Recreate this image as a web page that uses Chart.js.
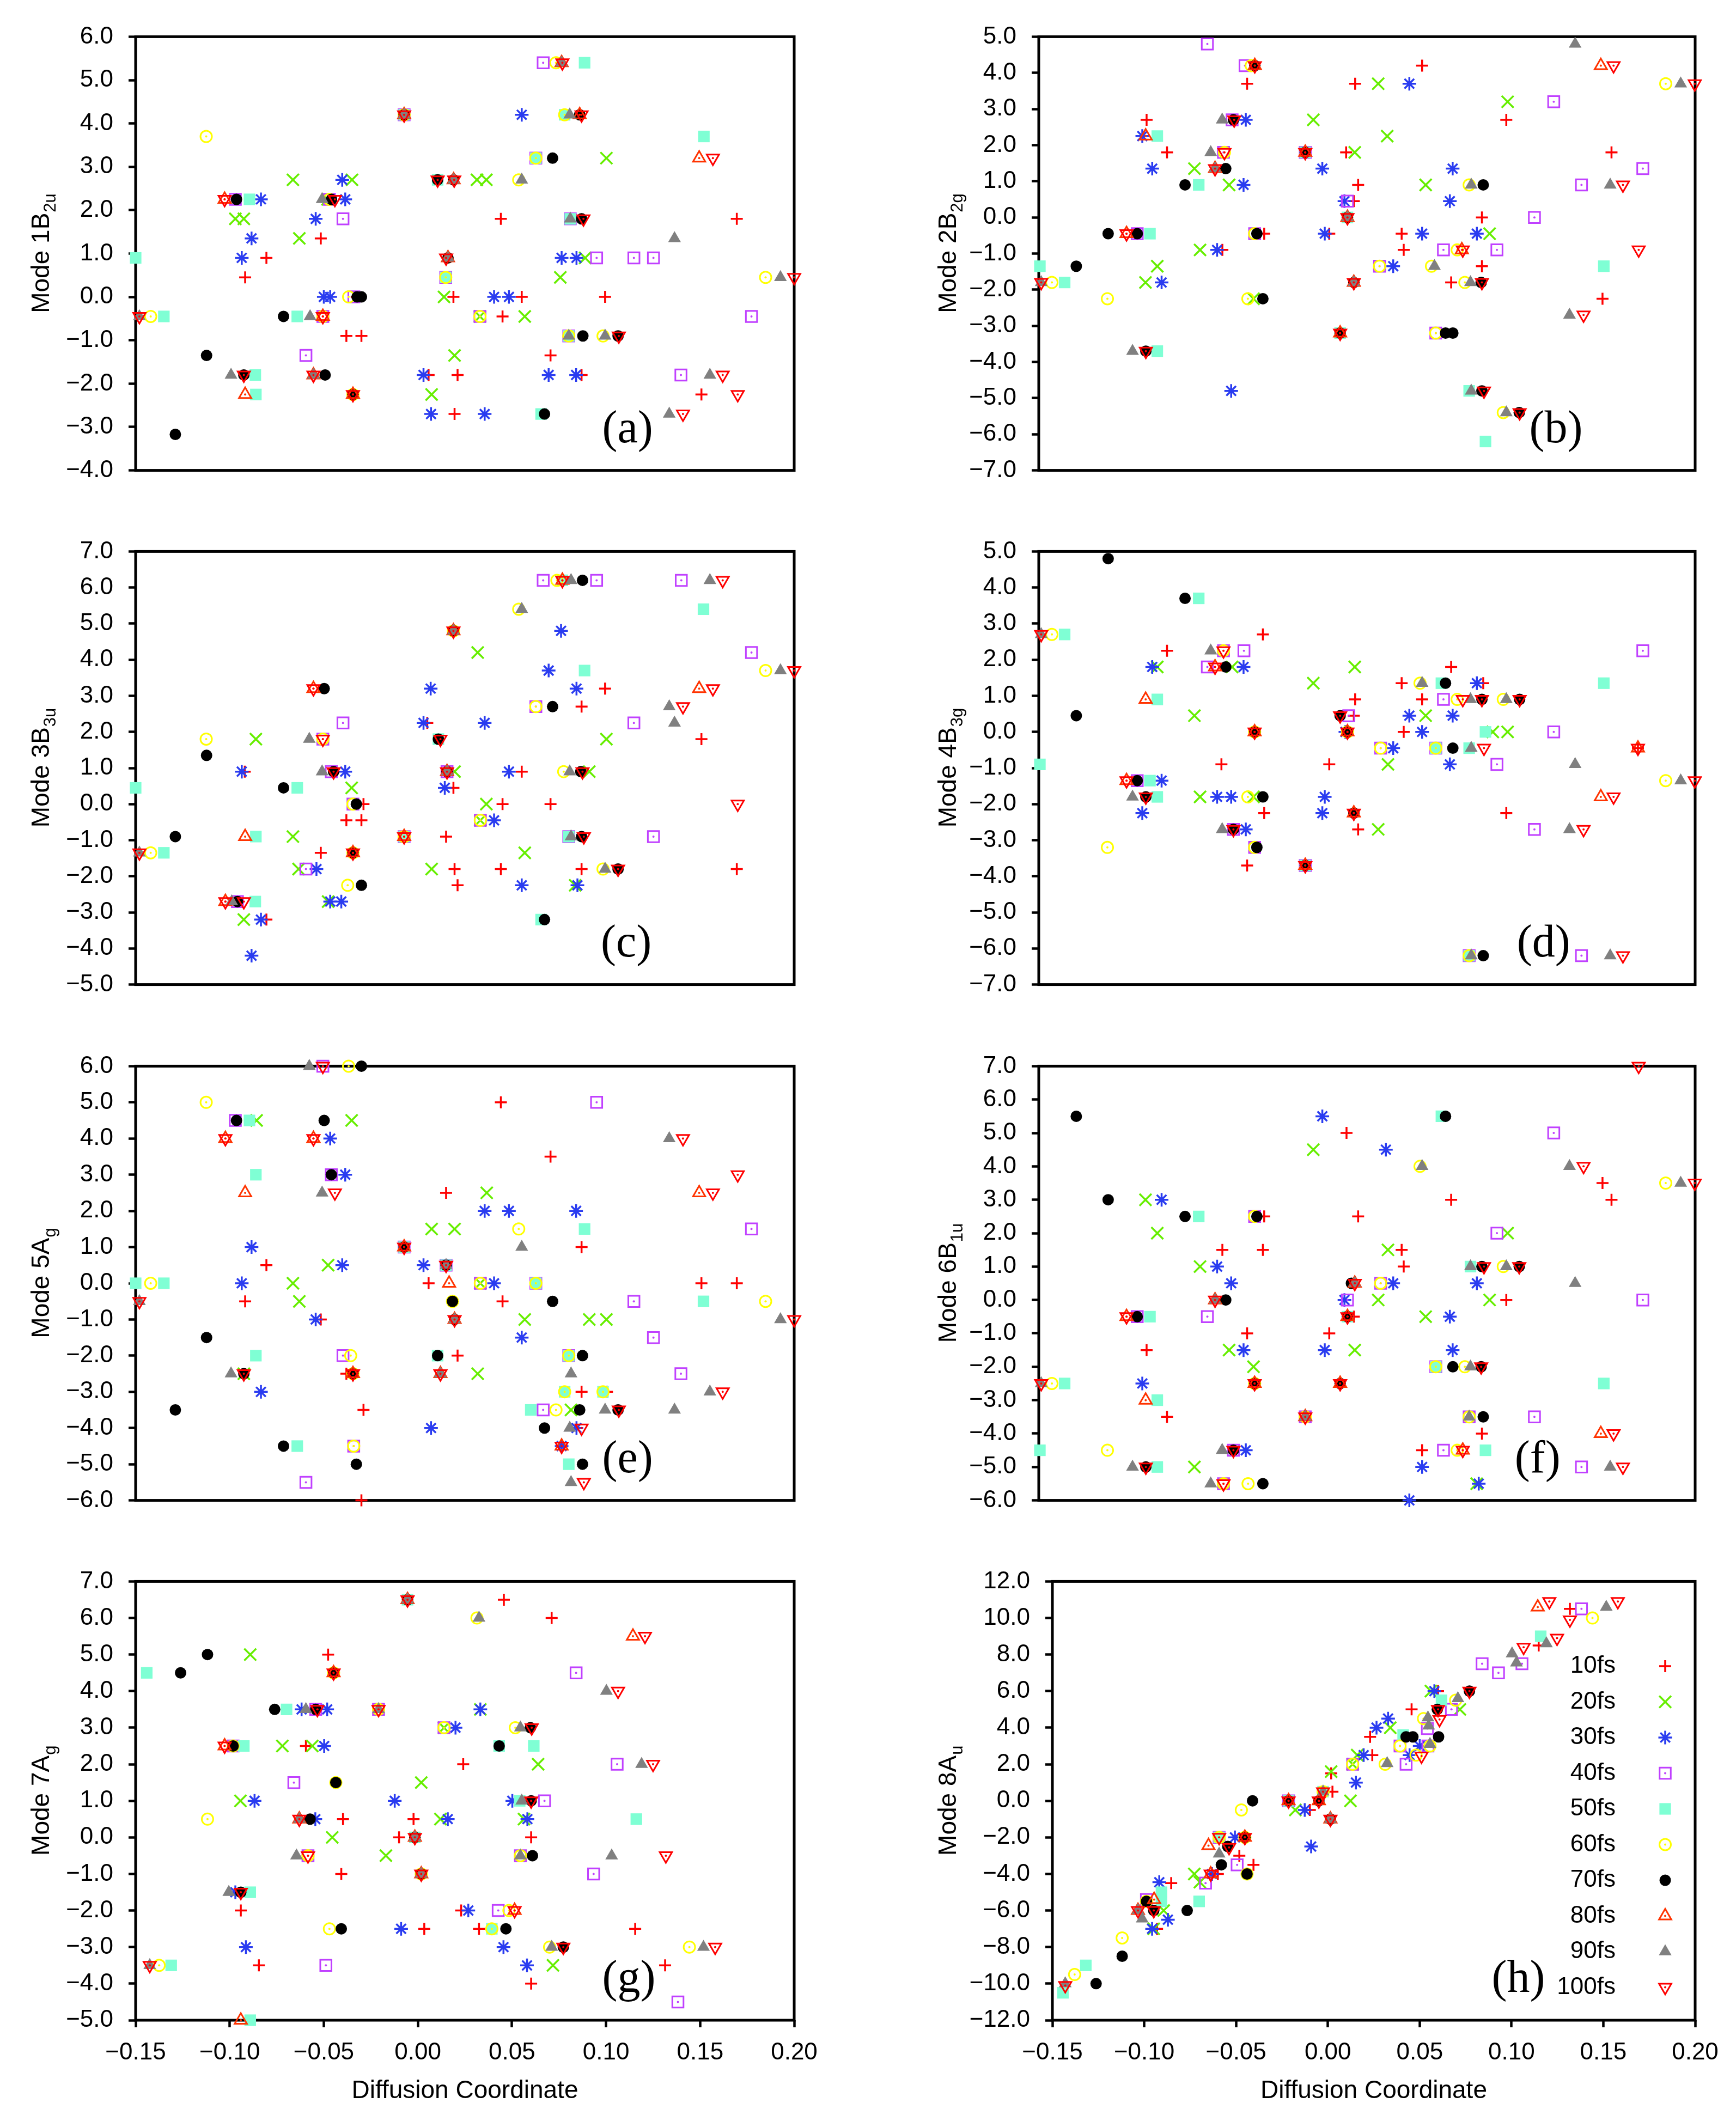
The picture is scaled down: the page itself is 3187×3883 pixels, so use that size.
<!DOCTYPE html>
<html>
<head>
<meta charset="utf-8">
<script src="https://cdn.jsdelivr.net/npm/chart.js@4.4.0/dist/chart.umd.min.js"></script>
<style>
  html, body { margin: 0; padding: 0; background: #fff; }
  #wrap { position: relative; width: 3187px; height: 3883px; background: #fff; overflow: hidden; }
  #wrap canvas { position: absolute; }
</style>
</head>
<body>
<div id="wrap"></div>
<script>
// series (one per time step)
const times = ['10fs', '20fs', '30fs', '40fs', '50fs', '60fs', '70fs', '80fs', '90fs', '100fs'];

// tick labels
const xTicks = [-0.15, -0.10, -0.05, 0.00, 0.05, 0.10, 0.15, 0.20];
const ticksA = [-4, -3, -2, -1, 0, 1, 2, 3, 4, 5, 6];
const ticksB = [-7, -6, -5, -4, -3, -2, -1, 0, 1, 2, 3, 4, 5];
const ticksC = [-5, -4, -3, -2, -1, 0, 1, 2, 3, 4, 5, 6, 7];
const ticksD = [-7, -6, -5, -4, -3, -2, -1, 0, 1, 2, 3, 4, 5];
const ticksE = [-6, -5, -4, -3, -2, -1, 0, 1, 2, 3, 4, 5, 6];
const ticksF = [-6, -5, -4, -3, -2, -1, 0, 1, 2, 3, 4, 5, 6, 7];
const ticksG = [-5, -4, -3, -2, -1, 0, 1, 2, 3, 4, 5, 6, 7];
const ticksH = [-12, -10, -8, -6, -4, -2, 0, 2, 4, 6, 8, 10, 12];

// (a) Mode 1B2u : [diffusion coordinate, mode value] per series, 10fs .. 100fs
const panelA = [
  [[-0.0918,0.45],[-0.0805,0.9],[-0.0516,1.35],[0.0441,1.8],[0.1695,1.8],[-0.0325,0],[0.0189,0],[0.0552,0],[0.0995,0],[0.045,-0.45],[-0.038,-0.9],[-0.03,-0.9],[0.0705,-1.35],[0.0057,-1.8],[0.0211,-1.8],[0.087,-1.8],[0.1507,-2.25],[0.0195,-2.7]],
  [[-0.0664,2.7],[-0.035,2.7],[0.0314,2.7],[0.0364,2.7],[0.1002,3.2],[-0.097,1.8],[-0.0925,1.8],[-0.063,1.35],[0.0889,0.9],[0.0757,0.45],[0.0139,0],[0.033,-0.45],[0.0568,-0.45],[0.0195,-1.35],[0.0073,-2.25],[-0.048,2.25]],
  [[0.0552,4.2],[-0.0402,2.7],[-0.0834,2.25],[-0.0386,2.25],[-0.0543,1.8],[-0.0884,1.35],[-0.0936,0.9],[0.0764,0.9],[0.0843,0.9],[-0.05,0],[-0.0466,0],[0.0405,0],[0.0484,0],[0.003,-1.8],[0.0695,-1.8],[0.0841,-1.8],[0.007,-2.7],[0.0355,-2.7]],
  [[0.0666,5.4],[-0.0073,4.2],[0.0627,3.2],[-0.097,2.25],[-0.047,2.25],[-0.0398,1.8],[0.081,1.8],[0.095,0.9],[0.1148,0.9],[0.1252,0.9],[0.0148,0.45],[-0.034,0],[-0.0505,-0.45],[0.033,-0.45],[0.1773,-0.45],[0.0802,-0.9],[-0.0595,-1.35],[0.1398,-1.8]],
  [[0.0886,5.4],[-0.0073,4.2],[0.078,4.2],[0.152,3.7],[0.0627,3.2],[0.0105,2.7],[-0.0895,2.25],[0.081,1.8],[-0.15,0.9],[0.0148,0.45],[-0.135,-0.45],[-0.0641,-0.45],[0.0802,-0.9],[-0.0864,-1.8],[-0.0861,-2.25],[0.0655,-2.7]],
  [[0.0734,5.4],[-0.0073,4.2],[0.078,4.2],[-0.1125,3.7],[0.0627,3.2],[0.0536,2.7],[-0.047,2.25],[0.0148,0.45],[0.1848,0.45],[-0.0368,0],[-0.142,-0.45],[-0.0505,-0.45],[0.033,-0.45],[0.0802,-0.9],[0.0984,-0.9],[-0.0345,-2.25]],
  [[-0.0073,4.2],[0.086,4.2],[0.0716,3.2],[0.0105,2.7],[0.019,2.7],[-0.0964,2.25],[-0.0459,2.25],[0.087,1.8],[0.016,0.9],[-0.0323,0],[-0.03,0],[-0.0714,-0.45],[0.0877,-0.9],[0.1064,-0.9],[-0.1123,-1.35],[-0.0925,-1.8],[-0.0493,-1.8],[-0.0345,-2.25],[0.0673,-2.7],[-0.1289,-3.17]],
  [[0.0764,5.4],[-0.0073,4.2],[0.086,4.2],[0.1495,3.2],[0.019,2.7],[-0.1027,2.25],[0.016,0.9],[-0.0505,-0.45],[-0.0555,-1.8],[-0.0918,-2.25],[-0.0345,-2.25]],
  [[0.0764,5.4],[-0.0073,4.2],[0.0807,4.2],[0.0552,2.7],[0.019,2.7],[-0.0509,2.25],[0.081,1.8],[0.1364,1.35],[0.016,0.9],[0.1927,0.45],[-0.148,-0.45],[-0.0573,-0.45],[0.0802,-0.9],[0.0995,-0.9],[-0.0993,-1.8],[-0.0555,-1.8],[0.1552,-1.8],[0.1336,-2.7]],
  [[0.0768,5.4],[-0.0073,4.2],[0.087,4.2],[0.1568,3.2],[0.0105,2.7],[0.0193,2.7],[-0.1027,2.25],[-0.0441,2.25],[0.088,1.8],[0.015,0.9],[0.2,0.45],[-0.148,-0.45],[-0.0505,-0.45],[0.1068,-0.9],[-0.0925,-1.8],[-0.0555,-1.8],[0.162,-1.8],[-0.0345,-2.25],[0.17,-2.25],[0.1409,-2.7]]
];

// (b) Mode 2B2g
const panelB = [
  [[0.0544,4.2],[-0.0389,3.7],[0.0187,3.7],[-0.0925,2.7],[0.0993,2.7],[-0.0816,1.8],[0.0139,1.8],[0.1554,1.8],[0.0203,0.9],[0.018,0.45],[0.0863,0],[-0.0298,-0.45],[0.0049,-0.45],[0.0435,-0.45],[-0.0521,-0.9],[0.0446,-0.9],[0.0863,-1.35],[0.0699,-1.8],[0.1506,-2.25]],
  [[0.031,3.7],[0.1,3.2],[-0.0036,2.7],[0.0358,2.25],[0.0185,1.8],[-0.067,1.35],[-0.0485,0.9],[0.0563,0.9],[0.0904,-0.45],[-0.064,-0.9],[-0.0868,-1.35],[-0.0931,-1.8],[-0.0355,-2.25]],
  [[0.0476,3.7],[-0.0396,2.7],[-0.0948,2.25],[-0.0895,1.35],[0.0012,1.35],[0.0707,1.35],[-0.0408,0.9],[0.013,0.45],[0.0692,0.45],[0.0025,-0.45],[0.0544,-0.45],[0.0836,-0.45],[-0.0549,-0.9],[0.039,-1.35],[-0.0845,-1.8],[-0.0474,-4.8]],
  [[-0.0601,4.8],[-0.04,4.2],[0.1246,3.2],[-0.0469,2.7],[-0.0515,1.8],[-0.0079,1.8],[0.1721,1.35],[0.1394,0.9],[0.0146,0.45],[0.1143,0],[-0.0975,-0.45],[-0.0349,-0.45],[0.0658,-0.9],[0.0943,-0.9],[0.0317,-1.35],[0.0617,-3.2]],
  [[-0.0868,2.25],[-0.0079,1.8],[-0.0647,0.9],[0.0146,0],[-0.0907,-0.45],[-0.1494,-1.35],[0.1513,-1.35],[-0.1362,-1.8],[0.0107,-3.2],[-0.0868,-3.7],[0.0795,-4.8],[0.0882,-6.2]],
  [[-0.0367,4.2],[0.1843,3.7],[-0.051,1.8],[0.0795,0.9],[-0.0349,-0.45],[0.0731,-0.9],[0.0317,-1.35],[0.0594,-1.35],[-0.143,-1.8],[0.0772,-1.8],[-0.1134,-2.25],[-0.0385,-2.25],[0.0617,-3.2],[0.0977,-5.4]],
  [[-0.0348,4.2],[-0.0462,2.7],[-0.0079,1.8],[-0.0503,1.35],[-0.072,0.9],[0.087,0.9],[0.0146,0],[-0.113,-0.45],[-0.0975,-0.45],[-0.0337,-0.45],[-0.13,-1.35],[0.018,-1.8],[0.0859,-1.8],[-0.0305,-2.25],[0.0107,-3.2],[0.0669,-3.2],[0.0708,-3.2],[-0.0929,-3.7],[0.0863,-4.8],[0.1062,-5.4]],
  [[-0.0348,4.2],[0.1497,4.2],[-0.093,2.25],[-0.0079,1.8],[-0.056,1.35],[0.0146,0],[-0.1032,-0.45],[0.0756,-0.9],[0.018,-1.8],[0.0107,-3.2]],
  [[0.136,4.8],[0.1923,3.7],[-0.0522,2.7],[-0.0583,1.8],[-0.056,1.35],[0.0806,0.9],[0.1547,0.9],[0.0146,0],[0.061,-1.35],[-0.1487,-1.8],[0.018,-1.8],[0.0802,-1.8],[0.133,-2.7],[-0.1,-3.7],[0.0806,-4.8],[0.0993,-5.4]],
  [[-0.0348,4.2],[0.1565,4.2],[0.1998,3.7],[-0.0458,2.7],[-0.051,1.8],[-0.0079,1.8],[-0.056,1.35],[0.1615,0.9],[0.0146,0],[-0.1032,-0.45],[0.0761,-0.9],[0.1699,-0.9],[-0.1487,-1.8],[0.018,-1.8],[0.0863,-1.8],[0.1405,-2.7],[0.0107,-3.2],[-0.0929,-3.7],[0.0874,-4.8],[0.1064,-5.4]]
];

// (c) Mode 3B3u
const panelC = [
  [[0.0995,3.2],[0.087,2.7],[0.005,2.25],[0.1507,1.8],[-0.092,0.9],[0.0552,0.9],[0.0189,0.45],[-0.0289,0],[0.045,0],[0.0705,0],[-0.038,-0.45],[-0.03,-0.45],[0.015,-0.9],[-0.0516,-1.35],[0.0195,-1.8],[0.0441,-1.8],[0.087,-1.8],[0.1695,-1.8],[0.0211,-2.25],[-0.0805,-3.2]],
  [[0.0318,4.2],[-0.0861,1.8],[0.1002,1.8],[0.0195,0.9],[0.0911,0.9],[-0.0352,0.45],[0.0364,0],[0.0332,-0.45],[-0.0664,-0.9],[0.0568,-1.35],[-0.0634,-1.8],[0.0073,-1.8],[0.0836,-2.25],[-0.0477,-2.7],[-0.0925,-3.2]],
  [[0.0761,4.8],[0.0695,3.7],[0.0068,3.2],[0.0843,3.2],[0.003,2.25],[0.0355,2.25],[-0.0936,0.9],[-0.0386,0.9],[0.0484,0.9],[0.0143,0.45],[0.0405,-0.45],[-0.0539,-1.8],[0.0552,-2.25],[0.0848,-2.25],[-0.0466,-2.7],[-0.0407,-2.7],[-0.0834,-3.2],[-0.0884,-4.2]],
  [[0.0666,6.2],[0.095,6.2],[0.14,6.2],[0.1773,4.2],[0.0627,2.7],[-0.0398,2.25],[0.1148,2.25],[-0.0505,1.8],[-0.046,0.9],[0.0155,0.9],[-0.0345,0],[0.0332,-0.45],[-0.0073,-0.9],[0.0802,-0.9],[0.1252,-0.9],[-0.0595,-1.8],[-0.0959,-2.7]],
  [[0.0768,6.2],[0.1518,5.4],[0.0886,3.7],[0.0109,1.8],[-0.15,0.45],[-0.0641,0.45],[-0.0861,-0.9],[-0.0073,-0.9],[0.0802,-0.9],[-0.135,-1.35],[-0.0864,-2.7],[0.0655,-3.2]],
  [[0.0739,6.2],[0.0536,5.4],[0.0189,4.8],[0.1848,3.7],[0.0627,2.7],[-0.1125,1.8],[-0.0505,1.8],[0.0775,0.9],[-0.0345,0],[0.0332,-0.45],[-0.0073,-0.9],[-0.142,-1.35],[-0.0345,-1.35],[0.0984,-1.8],[-0.0373,-2.25]],
  [[0.0875,6.2],[0.0189,4.8],[-0.0498,3.2],[0.0716,2.7],[0.0109,1.8],[-0.1123,1.35],[-0.0448,0.9],[0.0155,0.9],[0.0866,0.9],[-0.0714,0.45],[-0.0327,0],[-0.1289,-0.9],[0.087,-0.9],[-0.0345,-1.35],[0.1064,-1.8],[-0.03,-2.25],[-0.0959,-2.7],[0.0673,-3.2]],
  [[0.0768,6.2],[0.0189,4.8],[-0.0555,3.2],[0.1495,3.2],[0.0155,0.9],[-0.0918,-0.9],[-0.0073,-0.9],[-0.0345,-1.35],[-0.1023,-2.7]],
  [[0.0814,6.2],[0.1552,6.2],[0.0552,5.4],[0.0189,4.8],[0.1927,3.7],[0.1336,2.7],[0.1364,2.25],[-0.0577,1.8],[-0.0509,0.9],[0.0155,0.9],[0.0807,0.9],[0.0814,-0.9],[-0.148,-1.35],[0.0995,-1.8],[-0.0989,-2.7]],
  [[0.0768,6.2],[0.162,6.2],[0.0189,4.8],[0.2,3.7],[-0.0555,3.2],[0.1568,3.2],[0.1409,2.7],[-0.0505,1.8],[0.012,1.8],[-0.0448,0.9],[0.0155,0.9],[0.0875,0.9],[0.17,0],[-0.0073,-0.9],[0.0882,-0.9],[-0.148,-1.35],[-0.0345,-1.35],[0.1064,-1.8],[-0.1023,-2.7],[-0.0925,-2.7]]
];

// (d) Mode 4B3g
const panelD = [
  [[-0.0305,2.7],[-0.0816,2.25],[0.0699,1.8],[0.0435,1.35],[0.087,1.35],[0.0187,0.9],[0.0544,0.9],[0.018,0.45],[0.0446,0],[0.1695,-0.45],[-0.0526,-0.9],[0.0049,-0.9],[-0.0298,-2.25],[0.0993,-2.25],[0.0203,-2.7],[-0.0389,-3.7]],
  [[-0.0868,1.8],[-0.0469,1.8],[0.0185,1.8],[-0.0036,1.35],[-0.067,0.45],[0.0563,0.45],[0.0921,0],[0.1,0],[0.0362,-0.9],[-0.064,-1.8],[-0.0355,-1.8],[0.031,-2.7]],
  [[-0.0895,1.8],[-0.0408,1.8],[0.0836,1.35],[0.0476,0.45],[0.0707,0.45],[0.0135,0],[0.0544,0],[0.039,-0.45],[0.0692,-0.9],[-0.0845,-1.35],[-0.0549,-1.8],[-0.0474,-1.8],[0.0025,-1.8],[-0.0948,-2.25],[0.0012,-2.25],[-0.0396,-2.7]],
  [[-0.0515,2.25],[-0.0406,2.25],[0.1721,2.25],[-0.0601,1.8],[0.0658,0.9],[0.0153,0.45],[0.1246,0],[0.0323,-0.45],[0.0617,-0.45],[0.0943,-0.9],[-0.0975,-1.35],[-0.0462,-2.7],[0.1143,-2.7],[-0.0349,-3.2],[-0.0079,-3.7],[0.0795,-6.2],[0.1394,-6.2]],
  [[-0.0647,3.7],[-0.1362,2.7],[0.0647,1.35],[0.1513,1.35],[-0.0868,0.9],[0.0882,0],[0.0617,-0.45],[0.0795,-0.45],[-0.1494,-0.9],[-0.0907,-1.35],[-0.0868,-1.8],[-0.0079,-3.7],[0.0795,-6.2]],
  [[-0.143,2.7],[-0.0515,2.25],[0.0533,1.35],[0.0731,0.9],[0.0977,0.9],[-0.0349,0],[0.0146,0],[0.0323,-0.45],[0.0617,-0.45],[0.1843,-1.35],[-0.0385,-1.8],[-0.1134,-3.2],[-0.0349,-3.2],[0.0795,-6.2]],
  [[-0.113,4.8],[-0.072,3.7],[-0.0503,1.8],[0.0669,1.35],[0.0863,0.9],[0.1064,0.9],[-0.13,0.45],[0.0107,0.45],[-0.0349,0],[0.0146,0],[0.0708,-0.45],[-0.0975,-1.35],[-0.0929,-1.8],[-0.0305,-1.8],[0.018,-2.25],[-0.0462,-2.7],[-0.0337,-3.2],[-0.0079,-3.7],[0.087,-6.2]],
  [[-0.056,1.8],[-0.093,0.9],[-0.0349,0],[0.0146,0],[0.1695,-0.45],[-0.1032,-1.35],[0.1497,-1.8],[0.018,-2.25],[-0.0079,-3.7]],
  [[-0.1487,2.7],[-0.0583,2.25],[0.0544,1.35],[0.0802,0.9],[0.0993,0.9],[0.0806,-0.45],[0.136,-0.9],[0.1923,-1.35],[-0.1,-1.8],[-0.0522,-2.7],[0.133,-2.7],[0.0806,-6.2],[0.1547,-6.2]],
  [[-0.1487,2.7],[-0.0515,2.25],[-0.056,1.8],[0.0761,0.9],[0.0863,0.9],[0.1064,0.9],[0.0107,0.45],[-0.0349,0],[0.0146,0],[0.0874,-0.45],[0.1695,-0.45],[-0.1032,-1.35],[0.1998,-1.35],[-0.0929,-1.8],[0.1565,-1.8],[0.018,-2.25],[-0.0462,-2.7],[0.1405,-2.7],[-0.0079,-3.7],[0.1615,-6.2]]
];

// (e) Mode 5Ag
const panelE = [
  [[0.0441,5.0],[0.0705,3.5],[0.015,2.5],[0.087,1.0],[-0.0805,0.5],[0.0057,0],[0.1507,0],[0.1695,0],[-0.0918,-0.5],[0.045,-0.5],[-0.0516,-1.0],[0.0211,-2.0],[-0.038,-2.5],[0.087,-3.0],[0.1005,-3.0],[-0.0289,-3.5],[-0.03,-6.0]],
  [[-0.0857,4.5],[-0.0352,4.5],[0.0366,2.5],[0.0073,1.5],[0.0195,1.5],[-0.0477,0.5],[-0.0664,0],[0.0332,0],[-0.063,-0.5],[0.0568,-1.0],[0.0911,-1.0],[0.1002,-1.0],[-0.0925,-2.5],[0.0318,-2.5],[0.0814,-3.5]],
  [[-0.0466,4.0],[-0.0386,3.0],[0.0355,2.0],[0.0484,2.0],[0.0841,2.0],[-0.0884,1.0],[-0.0402,0.5],[0.003,0.5],[-0.0936,0],[0.0405,0],[-0.0543,-1.0],[0.0552,-1.5],[-0.0834,-3.0],[0.007,-4.0],[0.0843,-4.0],[0.0764,-4.5]],
  [[-0.0505,6.0],[0.095,5.0],[-0.097,4.5],[-0.046,3.0],[0.1773,1.5],[-0.0073,1.0],[0.015,0.5],[0.0332,0],[0.0627,0],[0.1148,-0.5],[0.1252,-1.5],[-0.0398,-2.0],[0.0802,-2.0],[0.1398,-2.5],[0.0666,-3.5],[-0.0341,-4.5],[-0.0595,-5.5]],
  [[-0.0895,4.5],[-0.0861,3.0],[0.0886,1.5],[-0.0073,1.0],[0.015,0.5],[-0.15,0],[-0.135,0],[0.0627,0],[0.1518,-0.5],[-0.0861,-2.0],[0.0105,-2.0],[0.0802,-2.0],[0.078,-3.0],[0.0984,-3.0],[0.06,-3.5],[-0.0641,-4.5],[0.0802,-5.0]],
  [[-0.0368,6.0],[-0.1125,5.0],[0.0536,1.5],[-0.142,0],[0.0332,0],[0.0627,0],[0.0184,-0.5],[0.1848,-0.5],[-0.0357,-2.0],[0.0802,-2.0],[-0.0345,-2.5],[0.078,-3.0],[0.0984,-3.0],[0.0734,-3.5],[-0.0341,-4.5]],
  [[-0.03,6.0],[-0.0964,4.5],[-0.0498,4.5],[-0.046,3.0],[-0.0073,1.0],[0.015,0.5],[0.0184,-0.5],[0.0716,-0.5],[0.0195,-1.0],[-0.1123,-1.5],[0.0105,-2.0],[0.0875,-2.0],[-0.0925,-2.5],[-0.0345,-2.5],[-0.1289,-3.5],[0.086,-3.5],[0.1064,-3.5],[0.0673,-4.0],[-0.0714,-4.5],[-0.0327,-5.0],[0.0875,-5.0]],
  [[-0.1023,4.0],[-0.0555,4.0],[-0.0918,2.5],[0.1495,2.5],[-0.0073,1.0],[0.0166,0],[0.0195,-1.0],[-0.0345,-2.5],[0.012,-2.5],[0.0764,-4.5]],
  [[-0.0577,6.0],[0.1336,4.0],[-0.0509,2.5],[0.0552,1.0],[0.015,0.5],[-0.148,-0.5],[0.0195,-1.0],[0.1927,-1.0],[-0.0993,-2.5],[0.012,-2.5],[0.0814,-2.5],[0.1552,-3.0],[0.0995,-3.5],[0.1364,-3.5],[0.0807,-4.0],[0.0814,-5.5]],
  [[-0.0505,6.0],[-0.1023,4.0],[-0.0555,4.0],[0.1409,4.0],[0.17,3.0],[-0.0441,2.5],[0.1568,2.5],[-0.0073,1.0],[0.015,0.5],[-0.148,-0.5],[0.0195,-1.0],[0.2,-1.0],[-0.0925,-2.5],[-0.0345,-2.5],[0.012,-2.5],[0.162,-3.0],[0.1068,-3.5],[0.087,-4.0],[0.0764,-4.5],[0.0882,-5.5]]
];

// (f) Mode 6B1u
const panelF = [
  [[0.0141,5.0],[0.1506,3.5],[0.0699,3.0],[0.1554,3.0],[-0.0298,2.5],[0.0203,2.5],[-0.0521,1.5],[-0.0305,1.5],[0.0435,1.5],[0.0446,1.0],[0.0993,0],[0.018,-0.5],[-0.0389,-1.0],[0.0049,-1.0],[-0.0925,-1.5],[-0.0816,-3.5],[0.0863,-4.0],[0.0544,-4.5]],
  [[-0.0036,4.5],[-0.0931,3.0],[-0.0868,2.0],[0.1,2.0],[0.0362,1.5],[-0.064,1.0],[0.031,0],[0.0904,0],[0.0563,-0.5],[-0.0485,-1.5],[0.0185,-1.5],[-0.0355,-2.0],[-0.067,-5.0],[0.0835,-5.5]],
  [[0.0012,5.5],[0.0351,4.5],[-0.0845,3.0],[-0.0549,1.0],[-0.0474,0.5],[0.039,0.5],[0.0836,0.5],[0.013,0],[0.0692,-0.5],[-0.0408,-1.5],[0.0025,-1.5],[0.0707,-1.5],[-0.0948,-2.5],[-0.0396,-4.5],[0.0544,-5.0],[0.0846,-5.5],[0.0476,-6.0]],
  [[0.1246,5.0],[0.0943,2.0],[-0.0349,2.5],[0.0323,0.5],[0.0146,0],[0.1721,0],[-0.0975,-0.5],[-0.0601,-0.5],[0.0617,-2.0],[-0.0079,-3.5],[0.0795,-3.5],[0.1143,-3.5],[-0.0462,-4.5],[0.0658,-4.5],[0.1394,-5.0],[-0.0515,-5.5]],
  [[0.0647,5.5],[-0.0647,2.5],[0.0802,1.0],[-0.0907,-0.5],[0.0146,-0.5],[0.0617,-2.0],[-0.1362,-2.5],[0.1513,-2.5],[-0.0868,-3.0],[-0.1494,-4.5],[0.0882,-4.5],[-0.0868,-5.0]],
  [[0.0533,4.0],[0.1843,3.5],[-0.0349,2.5],[0.0977,1.0],[0.0323,0.5],[0.0617,-2.0],[0.0772,-2.0],[-0.143,-2.5],[-0.0349,-2.5],[-0.0079,-3.5],[0.0795,-3.5],[-0.1134,-4.5],[0.0731,-4.5],[-0.0515,-5.5],[-0.0384,-5.5]],
  [[-0.13,5.5],[0.0669,5.5],[-0.113,3.0],[-0.072,2.5],[-0.0337,2.5],[0.0863,1.0],[0.1062,1.0],[0.0167,0.5],[-0.0503,0],[-0.0975,-0.5],[0.0146,-0.5],[0.0708,-2.0],[0.0859,-2.0],[-0.0349,-2.5],[0.0107,-2.5],[0.087,-3.5],[-0.0462,-4.5],[-0.0929,-5.0],[-0.0305,-5.5]],
  [[0.0185,0.5],[-0.056,0],[-0.1032,-0.5],[0.0146,-0.5],[-0.0349,-2.5],[0.0107,-2.5],[-0.093,-3.0],[-0.0079,-3.5],[0.1497,-4.0],[0.0761,-4.5]],
  [[0.0544,4.0],[0.133,4.0],[0.1923,3.5],[0.0802,1.0],[0.0993,1.0],[0.0185,0.5],[0.136,0.5],[-0.056,0],[0.0802,-2.0],[-0.1487,-2.5],[-0.0079,-3.5],[0.0795,-3.5],[-0.0522,-4.5],[-0.1,-5.0],[0.1547,-5.0],[-0.0583,-5.5]],
  [[0.1699,7.0],[0.1405,4.0],[0.1998,3.5],[0.0874,1.0],[0.1062,1.0],[0.0185,0.5],[-0.056,0],[-0.1032,-0.5],[0.0146,-0.5],[0.0859,-2.0],[-0.1487,-2.5],[-0.0349,-2.5],[0.0107,-2.5],[-0.0079,-3.5],[0.1565,-4.0],[-0.0462,-4.5],[0.0761,-4.5],[-0.0929,-5.0],[0.1615,-5.0],[-0.0515,-5.5]]
];

// (g) Mode 7Ag
const panelG = [
  [[0.0457,6.5],[0.0711,6.0],[-0.0477,5.0],[-0.0595,2.5],[0.0241,2.0],[-0.0398,0.5],[-0.0023,0.5],[-0.01,0],[0.0602,0],[-0.0407,-1.0],[-0.0941,-2.0],[0.023,-2.0],[0.0034,-2.5],[0.0325,-2.5],[0.1155,-2.5],[-0.0845,-3.5],[0.1314,-3.5],[0.0602,-4.0]],
  [[-0.0891,5.0],[0.0332,3.5],[0.0139,3.0],[-0.072,2.5],[-0.0561,2.5],[0.0639,2.0],[0.0018,1.5],[-0.0943,1.0],[0.012,0.5],[0.0564,0.5],[-0.0455,0],[-0.017,-0.5],[0.0718,-3.5]],
  [[-0.0618,3.5],[-0.0482,3.5],[0.0332,3.5],[0.02,3.0],[-0.0498,2.5],[-0.0868,1.0],[-0.0123,1.0],[0.0502,1.0],[-0.0545,0.5],[0.0159,0.5],[0.0582,0.5],[-0.097,-1.5],[0.0268,-2.0],[-0.0089,-2.5],[-0.0914,-3.0],[0.0455,-3.0],[0.058,-3.5]],
  [[0.0841,4.5],[-0.0543,3.5],[-0.0209,3.5],[0.0139,3.0],[-0.0982,2.5],[0.1059,2.0],[-0.0659,1.5],[0.0673,1.0],[-0.0584,-0.5],[0.0545,-0.5],[0.0934,-1.0],[0.0427,-2.0],[-0.0489,-3.5],[0.1382,-4.5]],
  [[-0.0055,6.5],[-0.1441,4.5],[-0.0698,3.5],[-0.0925,2.5],[0.0432,2.5],[0.0616,2.5],[0.0541,1.0],[0.1161,0.5],[-0.0016,0],[-0.0891,-1.5],[0.0393,-2.5],[-0.1311,-3.5],[-0.0891,-5.0]],
  [[0.0314,6.0],[-0.0448,4.5],[-0.0209,3.5],[0.0139,3.0],[0.0518,3.0],[-0.0982,2.5],[-0.0436,1.5],[-0.1118,0.5],[-0.0584,-0.5],[0.0545,-0.5],[0.0018,-1.0],[0.0484,-2.0],[-0.047,-2.5],[0.0393,-2.5],[0.07,-3.0],[0.1443,-3.0],[-0.1375,-3.5]],
  [[-0.0055,6.5],[-0.1118,5.0],[-0.1261,4.5],[-0.0448,4.5],[-0.0761,3.5],[-0.0543,3.5],[0.0598,3.0],[-0.0982,2.5],[0.0432,2.5],[-0.0436,1.5],[0.0602,1.0],[-0.0573,0.5],[-0.0016,0],[0.0609,-0.5],[0.0018,-1.0],[-0.0941,-1.5],[-0.0407,-2.5],[0.0468,-2.5],[0.0773,-3.0]],
  [[-0.0055,6.5],[0.1143,5.5],[-0.0448,4.5],[-0.1027,2.5],[-0.063,0.5],[-0.0016,0],[0.0018,-1.0],[0.0514,-2.0],[-0.0941,-5.0]],
  [[-0.0055,6.5],[0.0325,6.0],[0.1002,4.0],[-0.0595,3.5],[-0.0209,3.5],[0.0545,3.0],[0.1189,2.0],[0.0552,1.0],[-0.063,0.5],[-0.0016,0],[-0.0645,-0.5],[0.0545,-0.5],[0.103,-0.5],[0.0018,-1.0],[-0.1005,-1.5],[0.0711,-3.0],[0.1518,-3.0],[-0.1425,-3.5]],
  [[-0.0055,6.5],[0.1207,5.5],[-0.0448,4.5],[0.1064,4.0],[-0.0534,3.5],[-0.0209,3.5],[0.0605,3.0],[-0.1027,2.5],[0.125,2.0],[0.0602,1.0],[-0.063,0.5],[-0.0016,0],[-0.0584,-0.5],[0.1318,-0.5],[0.0018,-1.0],[-0.0941,-1.5],[0.0514,-2.0],[0.0773,-3.0],[0.158,-3.0],[-0.1425,-3.5]]
];

// (h) Mode 8Au
const panelH = [
  [[0.1318,10.5],[0.1148,8.5],[0.06,6.0],[0.0456,5.0],[0.023,3.5],[0.0242,2.5],[0.0018,1.5],[0.0025,0.5],[-0.0098,-0.5],[-0.0482,-3.0],[-0.0405,-3.5],[-0.0599,-4.0],[-0.0853,-4.5],[-0.093,-7.0]],
  [[0.0561,6.0],[0.0719,5.0],[0.034,4.0],[0.016,2.5],[0.0135,2.0],[0.0018,1.6],[0.0123,0],[-0.0177,-0.5],[-0.0727,-4.0],[-0.0697,-4.45],[-0.0894,-6.0],[-0.0948,-7.0]],
  [[0.058,6.0],[0.0328,4.5],[0.0265,4.0],[0.05,3.0],[0.0445,2.5],[0.0195,2.5],[0.0153,1.0],[-0.0126,-0.5],[-0.0091,-2.5],[-0.0506,-2.0],[-0.0631,-4.0],[-0.0918,-4.45],[-0.0871,-6.5],[-0.0957,-7.0]],
  [[0.1381,10.5],[0.084,7.5],[0.1057,7.5],[0.0929,7.0],[0.0673,5.0],[0.0542,3.95],[0.0393,3.0],[0.0545,3.0],[0.0426,2.0],[0.0135,2.0],[-0.0214,0],[-0.0592,-2.0],[-0.0494,-3.5],[-0.0666,-4.5],[-0.0988,-5.4]],
  [[0.1159,9.0],[0.0619,5.5],[0.041,3.6],[-0.0026,0.5],[-0.0214,0],[-0.0592,-2.0],[-0.0906,-5.0],[-0.0906,-5.5],[-0.0701,-5.5],[-0.1318,-9.0],[-0.1442,-10.5]],
  [[0.1441,10.0],[0.0696,5.5],[0.0521,4.5],[0.0393,3.0],[0.0556,3.0],[0.048,2.5],[0.0312,2.0],[0.0135,2.0],[-0.0026,0.5],[-0.0471,-0.5],[-0.0452,-2.0],[-0.0592,-2.0],[-0.044,-4.0],[-0.0988,-5.5],[-0.112,-7.5],[-0.1379,-9.5]],
  [[0.0771,6.0],[0.0596,5.0],[0.0426,3.5],[0.0463,3.5],[0.0603,3.5],[-0.0049,0],[-0.0214,0],[-0.041,0],[0.0014,-1.0],[-0.0452,-2.0],[-0.0545,-2.5],[-0.058,-3.5],[-0.044,-4.0],[-0.0988,-5.5],[-0.0766,-6.0],[-0.0948,-6.0],[-0.112,-8.5],[-0.1262,-10.0]],
  [[0.1143,10.6],[-0.0049,0],[-0.0214,0],[0.0014,-1.0],[-0.0452,-2.0],[-0.065,-2.45],[-0.0638,-4.0],[-0.0946,-5.4],[-0.1034,-6.0]],
  [[0.1516,10.6],[0.119,8.6],[0.1003,8.05],[0.1027,7.55],[0.0708,5.6],[0.0545,4.55],[0.0549,4.1],[0.0556,3.1],[0.0323,2.05],[-0.0026,0.5],[0.0014,-1.0],[-0.0592,-2.9],[-0.1034,-6.0],[-0.1011,-6.45],[-0.143,-10.0]],
  [[0.1206,10.9],[0.1579,10.9],[0.1318,9.9],[0.1248,8.9],[0.1066,8.4],[0.0771,6.0],[0.06,5.0],[0.0608,4.45],[0.051,2.45],[-0.0026,0.5],[-0.0049,0],[-0.0214,0],[0.0014,-1.0],[-0.0452,-2.0],[-0.0592,-2.0],[-0.0538,-2.55],[-0.0638,-4.0],[-0.1034,-6.0],[-0.0948,-6.0],[-0.143,-10.1]]
];

// marker look per series
const colors = ['#ff0000', '#66ee00', '#2a3cf0', '#c040ff', '#7fffd4', '#ffff00', '#000000', '#ff3300', '#808080', '#ff0000'];
const markers = [
  { style: 'cross', r: 11, bw: 3.5 },
  { style: 'crossRot', r: 15.5, bw: 3.5 },
  { style: 'star', r: 12.5, bw: 3.5 },
  { style: 'rect', r: 14.5, bw: 3, dot: true },
  { style: 'rect', r: 15, bw: 0, filled: true },
  { style: 'circle', r: 10.5, bw: 3, dot: true },
  { style: 'circle', r: 10.5, bw: 0, filled: true },
  { style: 'triangle', r: 13, bw: 3, dot: true },
  { style: 'triangle', r: 13.5, bw: 0, filled: true },
  { style: 'triangle', r: 13, bw: 3, rot: 180, dot: true }
];

Chart.defaults.font.family = "'Liberation Sans', Arial, sans-serif";
Chart.defaults.color = '#000';

function fmt(v, d) {
  return (v < 0 ? '\u2212' : '') + Math.abs(v).toFixed(d);
}

// page layout
const cols = [
  { left: 0, width: 1560, plotLeft: 249, plotRight: 1458, titleX: 90 },
  { left: 1600, width: 1587, plotLeft: 1907, plotRight: 3112, titleX: 1755 }
];
const rows = [
  { top: 53, bottom: 873 },
  { top: 998, bottom: 1817 },
  { top: 1943, bottom: 2764 },
  { top: 2889, bottom: 3709 }
];

const panels = [
  { data: panelA, ticks: ticksA, title: 'Mode 1B', sub: '2u', label: '(a)', lx: 0.747, col: 0, row: 0 },
  { data: panelB, ticks: ticksB, title: 'Mode 2B', sub: '2g', label: '(b)', lx: 0.788, col: 1, row: 0 },
  { data: panelC, ticks: ticksC, title: 'Mode 3B', sub: '3u', label: '(c)', lx: 0.745, col: 0, row: 1 },
  { data: panelD, ticks: ticksD, title: 'Mode 4B', sub: '3g', label: '(d)', lx: 0.769, col: 1, row: 1 },
  { data: panelE, ticks: ticksE, title: 'Mode 5A', sub: 'g', label: '(e)', lx: 0.747, col: 0, row: 2 },
  { data: panelF, ticks: ticksF, title: 'Mode 6B', sub: '1u', label: '(f)', lx: 0.760, col: 1, row: 2 },
  { data: panelG, ticks: ticksG, title: 'Mode 7A', sub: 'g', label: '(g)', lx: 0.749, col: 0, row: 3 },
  { data: panelH, ticks: ticksH, title: 'Mode 8A', sub: 'u', label: '(h)', lx: 0.725, col: 1, row: 3, plotLeft: 1932, legend: true }
];

// frame round the plot area
const framePlugin = {
  id: 'frame',
  beforeDatasetsDraw(chart) {
    const { ctx, chartArea: a } = chart;
    ctx.save();
    ctx.lineWidth = 5;
    ctx.strokeStyle = '#000';
    ctx.strokeRect(a.left, a.top, a.right - a.left, a.bottom - a.top);
    ctx.restore();
  }
};

// small dot in the middle of the open markers
const dotPlugin = {
  id: 'dots',
  afterDatasetDraw(chart, args) {
    const ds = chart.data.datasets[args.index];
    if (!ds.centerDot) return;
    const ctx = chart.ctx;
    ctx.save();
    ctx.fillStyle = ds.borderColor;
    args.meta.data.forEach(p => {
      ctx.beginPath();
      ctx.arc(p.x, p.y, 2, 0, Math.PI * 2);
      ctx.fill();
    });
    ctx.restore();
  }
};

// y title with subscript, panel letter and legend
const textPlugin = {
  id: 'panelText',
  afterDraw(chart, args, o) {
    const { ctx, chartArea: a } = chart;
    ctx.save();
    const cy = (a.top + a.bottom) / 2;
    ctx.translate(o.titleX, cy);
    ctx.rotate(-Math.PI / 2);
    ctx.fillStyle = '#000';
    ctx.textBaseline = 'alphabetic';
    ctx.textAlign = 'left';
    const mainFont = "46px 'Liberation Sans', Arial, sans-serif";
    const subFont = "31px 'Liberation Sans', Arial, sans-serif";
    ctx.font = mainFont;
    const w1 = ctx.measureText(o.title).width;
    ctx.font = subFont;
    const w2 = ctx.measureText(o.sub).width;
    const x0 = -(w1 + w2) / 2;
    ctx.font = mainFont;
    ctx.fillText(o.title, x0, 0);
    ctx.font = subFont;
    ctx.fillText(o.sub, x0 + w1 + 1, 12);
    ctx.restore();

    // panel letter
    ctx.save();
    ctx.fillStyle = '#000';
    ctx.font = "84px 'Liberation Serif', 'Times New Roman', serif";
    ctx.textAlign = 'center';
    ctx.textBaseline = 'alphabetic';
    ctx.fillText(o.label, a.left + o.lx * (a.right - a.left), a.bottom - 52);
    ctx.restore();

    if (o.legend) {
      const textRight = 2966 - o.canvasLeft;
      const markX = 3057 - o.canvasLeft;
      const y0 = 3059 - o.canvasTop;
      times.forEach((t, i) => {
        const y = y0 + i * 65.5;
        ctx.save();
        ctx.fillStyle = '#000';
        ctx.font = "44px 'Liberation Sans', Arial, sans-serif";
        ctx.textAlign = 'right';
        ctx.textBaseline = 'middle';
        ctx.fillText(t, textRight, y);
        const m = markers[i];
        ctx.strokeStyle = colors[i];
        ctx.fillStyle = m.filled ? colors[i] : 'rgba(0,0,0,0)';
        ctx.lineWidth = m.bw;
        Chart.helpers.drawPoint(ctx, { pointStyle: m.style, radius: m.r, rotation: m.rot || 0, borderWidth: m.bw }, markX, y);
        if (m.dot) {
          ctx.fillStyle = colors[i];
          ctx.beginPath();
          ctx.arc(markX, y, 2, 0, Math.PI * 2);
          ctx.fill();
        }
        ctx.restore();
      });
    }
  }
};

const wrap = document.getElementById('wrap');

panels.forEach(p => {
  const col = cols[p.col];
  const row = rows[p.row];
  const isBottom = p.row === 3;
  const plotLeft = p.plotLeft || col.plotLeft;
  const canvasTop = row.top - 40;
  const canvasBottom = isBottom ? 3883 : row.bottom + 45;
  const h = canvasBottom - canvasTop;

  const canvas = document.createElement('canvas');
  canvas.width = col.width;
  canvas.height = h;
  canvas.style.left = col.left + 'px';
  canvas.style.top = canvasTop + 'px';
  canvas.style.width = col.width + 'px';
  canvas.style.height = h + 'px';
  wrap.appendChild(canvas);

  const datasets = p.data.map((pts, i) => {
    const m = markers[i];
    return {
      label: times[i],
      data: pts.map(q => ({ x: q[0], y: q[1] })),
      pointStyle: m.style,
      pointRadius: m.r,
      pointHoverRadius: m.r,
      pointBorderWidth: m.bw,
      pointRotation: m.rot || 0,
      borderColor: colors[i],
      backgroundColor: m.filled ? colors[i] : 'rgba(0,0,0,0)',
      centerDot: !!m.dot,
      order: 10 - i,
      clip: false
    };
  });

  new Chart(canvas, {
    type: 'scatter',
    data: { datasets },
    options: {
      responsive: false,
      animation: false,
      devicePixelRatio: 1,
      layout: { padding: { top: 40, left: 0, bottom: 0, right: col.width - (col.plotRight - col.left) } },
      plugins: {
        legend: { display: false },
        tooltip: { enabled: false },
        panelText: {
          title: p.title, sub: p.sub, label: p.label, lx: p.lx,
          titleX: col.titleX - col.left, legend: !!p.legend,
          canvasLeft: col.left, canvasTop: canvasTop
        }
      },
      scales: {
        x: {
          type: 'linear',
          min: -0.15,
          max: 0.2,
          afterBuildTicks: s => { s.ticks = xTicks.map(v => ({ value: v })); },
          afterFit: s => { s.height = canvasBottom - row.bottom; },
          border: { display: false },
          grid: { drawOnChartArea: false, drawTicks: isBottom, tickLength: 13, tickWidth: 4.5, tickColor: '#000' },
          ticks: {
            display: isBottom, padding: 20, color: '#000', maxRotation: 0, autoSkip: false,
            font: { size: 44 },
            callback: v => fmt(v, 2)
          },
          title: {
            display: isBottom, text: 'Diffusion Coordinate', color: '#000',
            font: { size: 46 }, padding: { top: 0, bottom: 16 }
          }
        },
        y: {
          type: 'linear',
          min: p.ticks[0],
          max: p.ticks[p.ticks.length - 1],
          afterBuildTicks: s => { s.ticks = p.ticks.map(v => ({ value: v })); },
          afterFit: s => { s.width = plotLeft - col.left; },
          border: { display: false },
          grid: { drawOnChartArea: false, drawTicks: true, tickLength: 13, tickWidth: 4.5, tickColor: '#000' },
          ticks: {
            padding: 28, color: '#000', autoSkip: false,
            font: { size: 44 },
            callback: v => fmt(v, 1)
          }
        }
      }
    },
    plugins: [framePlugin, dotPlugin, textPlugin]
  });
});
</script>
</body>
</html>
